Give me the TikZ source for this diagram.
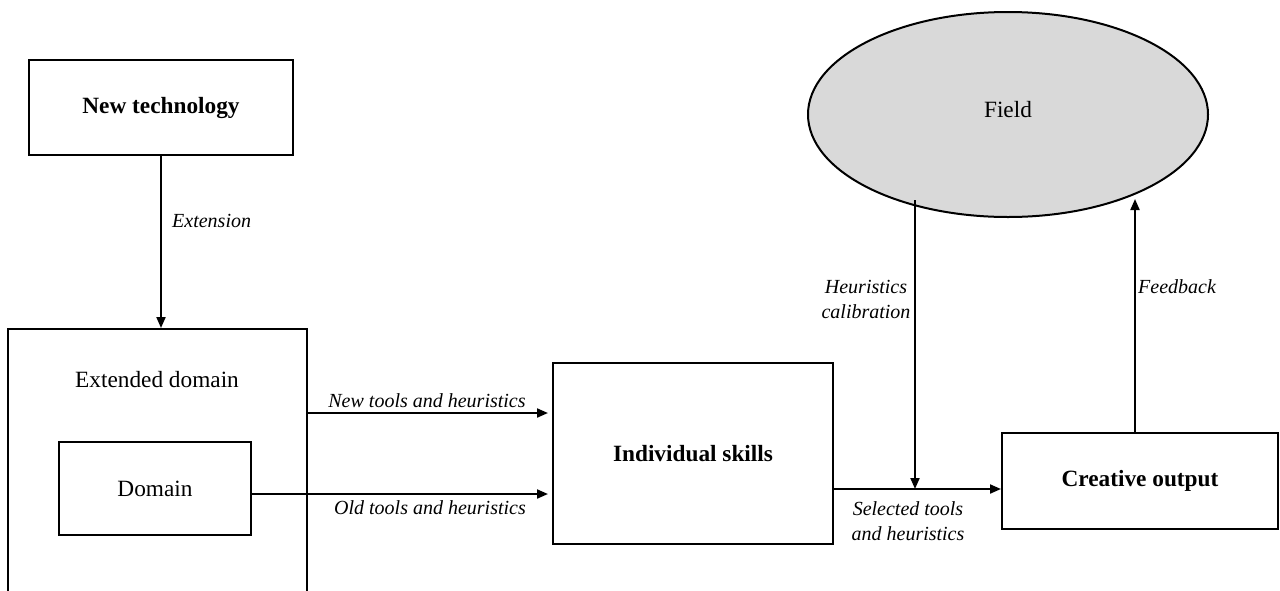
\documentclass[tikz,border=0pt]{standalone}
\usepackage{fontspec}
\setmainfont{Liberation Serif}
\usetikzlibrary{shapes.geometric,arrows.meta}
\definecolor{fieldgray}{HTML}{D9D9D9}
\begin{document}
\begin{tikzpicture}[x=1pt,y=-1pt,
  box/.style={draw, line width=2pt, inner sep=0pt, font=\fontsize{23.3}{28}\selectfont\bfseries},
  thinbox/.style={draw, line width=1.4pt, inner sep=0pt, font=\fontsize{23.3}{28}\selectfont},
  plain/.style={inner sep=0pt, font=\fontsize{23.3}{28}\selectfont},
  lab/.style={inner sep=0pt, font=\fontsize{20}{25}\selectfont\itshape, align=center},
  arr/.style={line width=2pt, -{Triangle[length=11pt,width=9pt]}}
]
\useasboundingbox (0,0) rectangle (1280,590);
\clip (0,0) rectangle (1280,590);

% nodes
\node[box, minimum width=264pt, minimum height=95pt] (newtech) at (161,107.5) {New technology};
\node[box, minimum width=299pt, minimum height=330pt, anchor=north] (ext) at (157.5,328) {};
\node[plain] (extlabel) at (157,380) {Extended domain};
\node[thinbox, minimum width=192pt, minimum height=93pt] (domain) at (155,488.5) {Domain};
\node[box, minimum width=280pt, minimum height=181pt] (skills) at (693,453.5) {Individual skills};
\node[box, minimum width=276pt, minimum height=96pt] (output) at (1140,481) {Creative output};
\node[ellipse, draw, line width=2pt, fill=fieldgray, minimum width=400pt, minimum height=205pt, inner sep=0pt, font=\fontsize{23.3}{28}\selectfont] (field) at (1008,114.5) {};
\node[plain] (fieldtext) at (1008,110) {Field};

% helper coordinates
\coordinate (newY) at (0,413);
\coordinate (oldY) at (0,494);
\coordinate (selY) at (0,489);
\coordinate (hcX) at (915,0);
\coordinate (fbX) at (1135,0);
\coordinate (hcTop) at (915,200);
\coordinate (hcEnd) at (hcX |- selY);
\coordinate (fbTop) at (1135,199);

% connectors
\draw[arr] (newtech.south) -- (newtech.south |- ext.north);
\draw[arr, shorten >=4pt] (ext.east |- newY) -- (skills.west |- newY);
\draw[arr, shorten >=4pt] (domain.east |- oldY) -- (skills.west |- oldY);
\draw[arr] (skills.east |- selY) -- (output.west |- selY);
\draw[arr] (hcTop) -- (hcEnd);
\draw[arr] (output.north -| fbX) -- (fbTop);

% labels
\node[lab, anchor=west] (lext) at (172,221) {Extension};
\node[lab] (lnew) at (427,401) {New tools and heuristics};
\node[lab] (lold) at (430,508) {Old tools and heuristics};
\node[lab] (lsel) at (908,521) {Selected tools\\and heuristics};
\node[lab] (lhc) at (866,299) {Heuristics\\calibration};
\node[lab] (lfb) at (1177,287) {Feedback};
\end{tikzpicture}
\end{document}
